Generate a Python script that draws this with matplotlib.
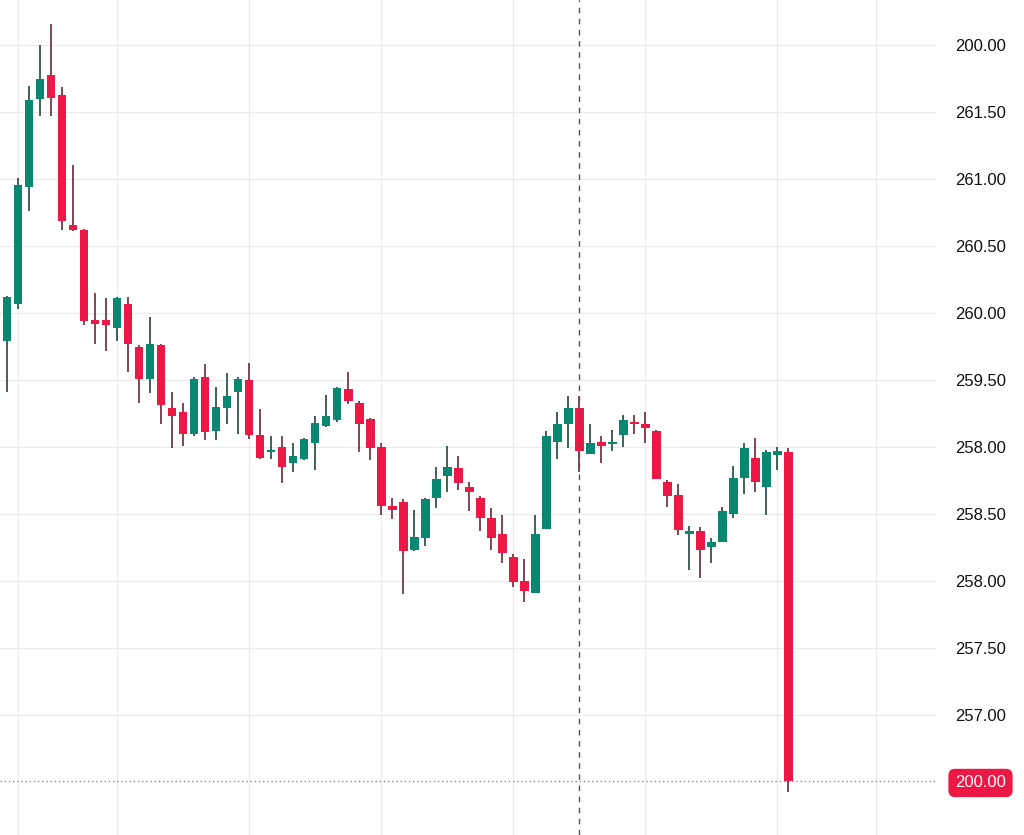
import matplotlib
matplotlib.use("Agg")
import matplotlib.pyplot as plt

# candle data, one entry per bar
opens = [259.03, 259.79, 260.07, 260.94, 261.60, 261.78, 261.63, 260.66, 260.62, 259.95,
         259.95, 259.89, 260.07, 259.75, 259.51, 259.76, 259.29, 259.26, 259.10, 259.52,
         259.12, 259.29, 259.41, 259.50, 259.09, 258.96, 259.00, 258.88, 258.91, 259.03,
         259.16, 259.20, 259.43, 259.33, 259.21, 259.00, 258.56, 258.59, 258.23, 258.32,
         258.62, 258.78, 258.84, 258.70, 258.62, 258.47, 258.35, 258.18, 258.00, 257.91,
         258.39, 259.04, 259.17, 259.29, 258.95, 259.04, 259.02, 259.09, 259.19, 259.17,
         259.12, 258.74, 258.64, 258.35, 258.37, 258.25, 258.29, 258.50, 258.77, 258.92,
         258.70, 258.94, 258.96]
highs = [259.80, 260.13, 261.01, 261.70, 262.00, 262.16, 261.69, 261.11, 260.63, 260.15,
         260.11, 260.12, 260.12, 259.76, 259.97, 259.77, 259.41, 259.33, 259.52, 259.62,
         259.45, 259.55, 259.52, 259.63, 259.28, 259.08, 259.08, 259.03, 259.07, 259.23,
         259.39, 259.45, 259.56, 259.34, 259.22, 259.03, 258.62, 258.61, 258.53, 258.62,
         258.85, 259.01, 258.93, 258.74, 258.63, 258.54, 258.49, 258.20, 258.16, 258.49,
         259.12, 259.26, 259.38, 259.38, 259.17, 259.08, 259.13, 259.24, 259.24, 259.26,
         259.13, 258.75, 258.72, 258.41, 258.40, 258.32, 258.55, 258.86, 259.03, 259.07,
         258.98, 259.00, 258.99]
lows = [259.00, 259.41, 260.03, 260.76, 261.47, 261.47, 260.62, 260.61, 259.91, 259.77,
        259.72, 259.79, 259.56, 259.33, 259.40, 259.17, 258.99, 259.01, 259.08, 259.05,
        259.05, 259.17, 259.10, 259.06, 258.91, 258.91, 258.73, 258.81, 258.90, 258.83,
        259.15, 259.19, 259.32, 258.96, 258.90, 258.49, 258.46, 257.90, 258.22, 258.26,
        258.54, 258.66, 258.68, 258.52, 258.37, 258.23, 258.13, 257.95, 257.84, 257.91,
        258.39, 258.91, 258.99, 258.81, 258.95, 258.88, 258.97, 259.00, 259.10, 259.03,
        258.76, 258.55, 258.34, 258.08, 258.02, 258.13, 258.29, 258.47, 258.65, 258.66,
        258.49, 258.83, 256.42]
closes = [259.77, 260.12, 260.96, 261.59, 261.75, 261.61, 260.69, 260.62, 259.94, 259.92,
          259.91, 260.11, 259.77, 259.51, 259.77, 259.31, 259.23, 259.10, 259.51, 259.11,
          259.30, 259.38, 259.51, 259.09, 258.92, 258.97, 258.85, 258.93, 259.06, 259.18,
          259.23, 259.44, 259.34, 259.17, 258.99, 258.56, 258.53, 258.22, 258.33, 258.61,
          258.76, 258.85, 258.73, 258.66, 258.47, 258.32, 258.21, 257.99, 257.92, 258.35,
          259.08, 259.17, 259.29, 258.97, 259.03, 259.01, 259.03, 259.20, 259.17, 259.14,
          258.76, 258.63, 258.38, 258.37, 258.23, 258.29, 258.52, 258.77, 258.99, 258.74,
          258.96, 258.97, 256.50]

# price levels of the axis and the labels printed next to them
levels = [262.0, 261.5, 261.0, 260.5, 260.0, 259.5, 259.0, 258.5, 258.0, 257.5, 257.0, 256.5]
level_labels = ["200.00", "261.50", "261.00", "260.50", "260.00", "259.50",
                "258.00", "258.50", "258.00", "257.50", "257.00", "200.00"]
last_price = 256.5
time_grid = [2, 11, 23, 35, 47, 59, 71, 80]
crosshair_bar = 53

UP = "#0a8770"
DOWN = "#ee1846"
UP_WICK = "#20463f"
DOWN_WICK = "#6b2636"

fig = plt.figure(figsize=(10.24, 8.35), dpi=100)
ax = fig.add_axes([0, 0, 937 / 1024, 1])

for x in time_grid:
    ax.axvline(x, color="#ebebeb", lw=0.9, zorder=0)
for y in levels[:-1]:
    ax.axhline(y, color="#ebebeb", lw=0.9, zorder=0)

for i, (o, h, l, c) in enumerate(zip(opens, highs, lows, closes)):
    up = c >= o
    ax.vlines(i, l, h, color=UP_WICK if up else DOWN_WICK, lw=1.2, zorder=2)
    body = abs(c - o)
    if body < 0.02:
        body = 0.02
    ax.bar(i, body, bottom=min(o, c), width=0.78,
           color=UP if up else DOWN, zorder=3)

# last price line and crosshair
ax.axhline(last_price, color="#8a8a8a", lw=1.0, ls=(0, (1, 2)), zorder=1)
ax.axvline(crosshair_bar, color="#555555", lw=1.0, ls=(0, (4, 4)), zorder=4)

ax.set_xlim(0.36, 85.5)
ax.set_ylim(256.1, 262.34)

ax.yaxis.tick_right()
ax.set_yticks(levels)
ax.set_yticklabels(level_labels)
ax.tick_params(axis="y", length=0, pad=13, labelsize=12,
               labelcolor="#111111")
ax.set_xticks([])
for lab in ax.get_yticklabels():
    lab.set_fontfamily("Liberation Sans")
last = ax.get_yticklabels()[-1]
last.set_color("white")
last.set_bbox(dict(facecolor=DOWN, edgecolor="none",
                   boxstyle="round,pad=0.4"))

for s in ax.spines.values():
    s.set_visible(False)

fig.savefig("out.png", dpi=100, facecolor="white")
